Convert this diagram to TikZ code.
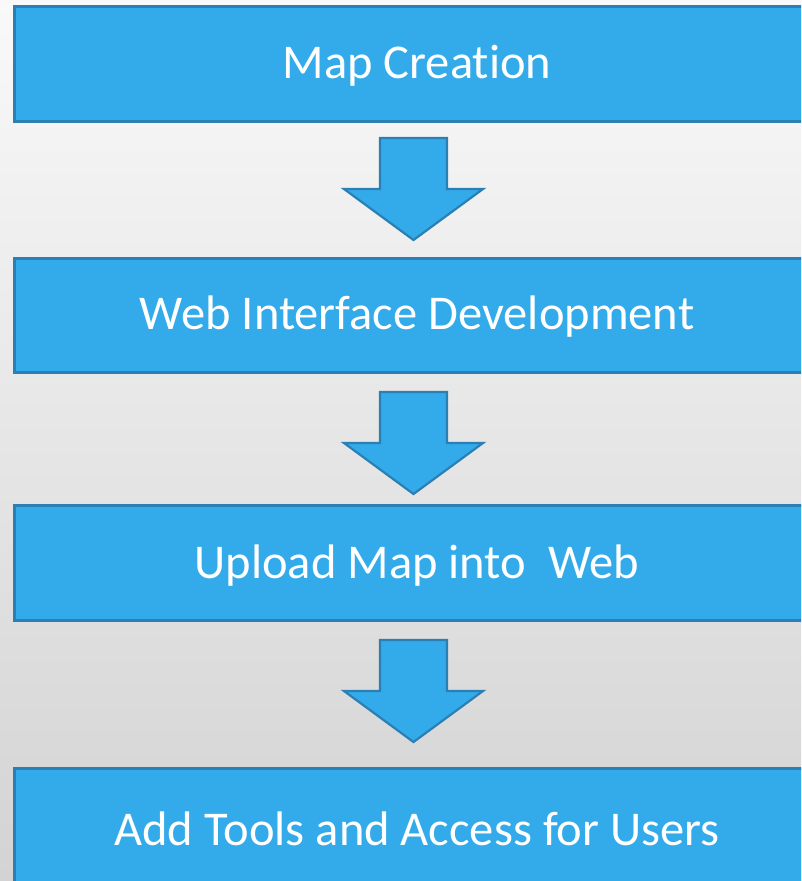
\documentclass[tikz,border=0pt]{standalone}
\usepackage{fontspec}
\setmainfont[Ligatures={NoCommon,NoRequired,NoContextual}]{Carlito}
\definecolor{boxfill}{HTML}{33ABEA}
\definecolor{boxline}{HTML}{2A7FB4}
\definecolor{bgtop}{HTML}{F9F9F9}
\definecolor{bgbot}{HTML}{D3D3D3}
\tikzset{
  stepbox/.style={draw=boxline, line width=3pt, fill=boxfill},
  steptext/.style={text=white, font=\fontsize{48.5}{54}\selectfont},
  downarrow/.style={draw=boxline, line width=2.2pt, fill=boxfill, line join=miter},
}
\begin{document}
\begin{tikzpicture}[x=1pt,y=-1pt]
\useasboundingbox (0,0) rectangle (801,881);
\shade[top color=bgtop, bottom color=bgbot] (0,0) rectangle (801,881);
\begin{scope}
\clip (0,0) rectangle (801,881);
\draw[stepbox] (14,6) rectangle (830,121);
\node[steptext] (b1) at (417,66) {Map Creation};
\draw[stepbox] (14,258) rectangle (830,372);
\node[steptext] (b2) at (417,317) {Web Interface Development};
\draw[stepbox] (14,505) rectangle (830,620);
\node[steptext] (b3) at (417,566) {Upload Map into\ \ Web};
\draw[stepbox] (14,768) rectangle (830,900);
\node[steptext] (b4) at (417,829) {Add Tools and Access for Users};
\foreach \t in {138,392,640}{
  \draw[downarrow] (380,\t) -- (447,\t) -- (447,\t+51) -- (483,\t+51) -- (413.5,\t+102) -- (344,\t+51) -- (380,\t+51) -- cycle;
}
\end{scope}
\end{tikzpicture}
\end{document}
